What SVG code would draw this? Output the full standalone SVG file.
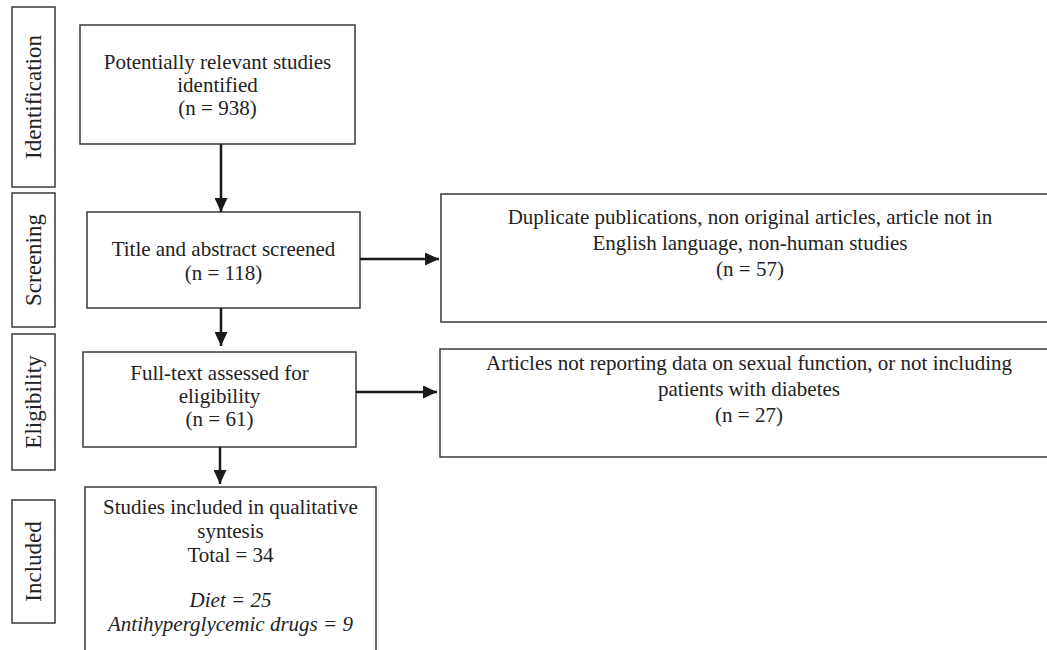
<svg xmlns="http://www.w3.org/2000/svg" width="1047" height="650" viewBox="0 0 1047 650">
<defs>
<style>
.box{fill:#fff;stroke:#3a3a3a;stroke-width:1.5}
.t{font-family:"Liberation Serif","Times New Roman",serif;font-size:21px;fill:#222;text-anchor:middle}
.side{font-family:"Liberation Serif","Times New Roman",serif;font-size:23px;fill:#222;text-anchor:middle}
.it{font-style:italic}
.arr{stroke:#1a1a1a;stroke-width:2.5;fill:none}
</style>
<marker id="ah" markerUnits="userSpaceOnUse" markerWidth="14" markerHeight="13" refX="14" refY="6.5" orient="auto">
<polygon points="0,0 14,6.5 0,13" fill="#1a1a1a"/>
</marker>
</defs>
<rect width="1047" height="650" fill="#fff"/>

<g id="side-identification">
<rect class="box" x="12" y="7" width="43" height="180"/>
<text class="side" transform="translate(41,97) rotate(-90)">Identification</text>
</g>
<g id="side-screening">
<rect class="box" x="12" y="193" width="43" height="134"/>
<text class="side" transform="translate(41,260) rotate(-90)">Screening</text>
</g>
<g id="side-eligibility">
<rect class="box" x="12" y="334" width="43" height="136"/>
<text class="side" transform="translate(41,402) rotate(-90)">Eligibility</text>
</g>
<g id="side-included">
<rect class="box" x="12" y="500" width="43" height="123"/>
<text class="side" transform="translate(41,561.5) rotate(-90)">Included</text>
</g>

<g id="identified">
<rect class="box" x="80" y="25" width="275" height="119"/>
<text class="t" x="217.5" y="69">Potentially relevant studies</text>
<text class="t" x="217.5" y="92">identified</text>
<text class="t" x="217.5" y="115">(n = 938)</text>
</g>
<g id="screened">
<rect class="box" x="87" y="212" width="273" height="96"/>
<text class="t" x="223.5" y="256">Title and abstract screened</text>
<text class="t" x="223.5" y="280">(n = 118)</text>
</g>
<g id="excluded-screening">
<rect class="box" x="441" y="194" width="630" height="128"/>
<text class="t" x="750" y="224">Duplicate publications, non original articles, article not in</text>
<text class="t" x="750" y="250">English language, non-human studies</text>
<text class="t" x="750" y="276">(n = 57)</text>
</g>
<g id="eligibility">
<rect class="box" x="83" y="352" width="273" height="95"/>
<text class="t" x="219.5" y="380">Full-text assessed for</text>
<text class="t" x="219.5" y="403">eligibility</text>
<text class="t" x="219.5" y="426">(n = 61)</text>
</g>
<g id="excluded-eligibility">
<rect class="box" x="440" y="349" width="630" height="108"/>
<text class="t" x="749" y="370">Articles not reporting data on sexual function, or not including</text>
<text class="t" x="749" y="396">patients with diabetes</text>
<text class="t" x="749" y="422">(n = 27)</text>
</g>
<g id="included">
<rect class="box" x="85" y="487" width="291" height="180"/>
<text class="t" x="230.5" y="514">Studies included in qualitative</text>
<text class="t" x="230.5" y="538">syntesis</text>
<text class="t" x="230.5" y="562">Total = 34</text>
<text class="t it" x="230.5" y="607">Diet = 25</text>
<text class="t it" x="230.5" y="631">Antihyperglycemic drugs = 9</text>
</g>

<g id="connectors">
<line class="arr" x1="221" y1="144" x2="221" y2="212" marker-end="url(#ah)"/>
<line class="arr" x1="221" y1="308" x2="221" y2="346" marker-end="url(#ah)"/>
<line class="arr" x1="220" y1="447" x2="220" y2="484" marker-end="url(#ah)"/>
<line class="arr" x1="360" y1="259" x2="439" y2="259" marker-end="url(#ah)"/>
<line class="arr" x1="356" y1="392" x2="437" y2="392" marker-end="url(#ah)"/>
</g>
</svg>
